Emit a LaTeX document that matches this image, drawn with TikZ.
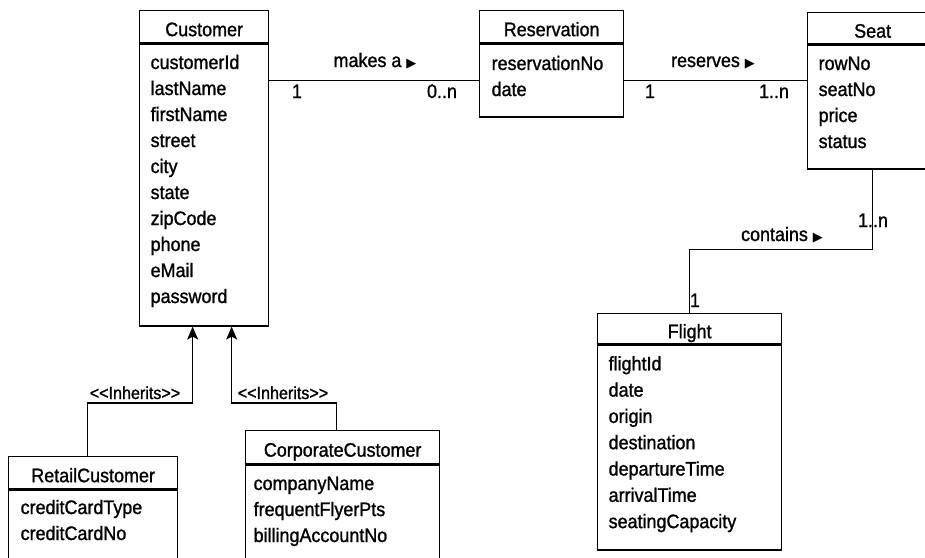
\documentclass[tikz,border=0pt]{standalone}
\usepackage{fontspec}
\setmainfont{Liberation Sans}[FakeStretch=0.92,FakeBold=1.2]
\newfontfamily\symfont{DejaVu Sans}
\usetikzlibrary{positioning,arrows.meta}
\newcommand{\rtri}{{\symfont\fontsize{13}{13}\selectfont ▶}}

\begin{document}
\begin{tikzpicture}[x=1pt,y=-1pt,line width=1.3pt
	,every node/.style={inner sep=0,font=\fontsize{19.5}{26}\selectfont}
	,hdr/.style={draw,anchor=north west,text height=19,text depth=0}
	,body/.style={draw}
	,attr/.style={anchor=base west}
	,lbl/.style={anchor=base}
	,small/.style={anchor=base,font=\fontsize{17.5}{18}\selectfont}
	,inh/.style={-{Stealth[length=13pt,width=11pt,inset=3pt]}}
]
\useasboundingbox (0,0) rectangle (925,557);

\node[hdr,minimum width=129,minimum height=32](cust) at(139,10) {Customer};
\node[body,below=0pt of cust,minimum width=129,minimum height=282](custbody) {};
\foreach \a [count=\i] in {customerId,lastName,firstName,street,city,state,zipCode,phone,eMail,password}{
	\node[attr](cust\i) at(150,43+26*\i) {\a};
}

\node[hdr,minimum width=144,minimum height=32](res) at(479,10) {Reservation};
\node[body,below=0pt of res,minimum width=144,minimum height=73](resbody) {};
\foreach \a [count=\i] in {reservationNo,date}{
	\node[attr](res\i) at(491,44+26*\i) {\a};
}

\node[hdr,minimum width=130,minimum height=31](seat) at(807,12) {Seat};
\node[body,below=0pt of seat,minimum width=130,minimum height=124](seatbody) {};
\foreach \a [count=\i] in {rowNo,seatNo,price,status}{
	\node[attr](seat\i) at(818,44+26*\i) {\a};
}

\node[hdr,minimum width=184,minimum height=30](flight) at(597,313) {Flight};
\node[body,below=0pt of flight,minimum width=184,minimum height=205](flightbody) {};
\foreach \a [count=\i] in {flightId,date,origin,destination,departureTime,arrivalTime,seatingCapacity}{
	\node[attr](flight\i) at(608,344+26.3*\i) {\a};
}

\node[hdr,minimum width=169,minimum height=32](retail) at(8,456) {RetailCustomer};
\node[body,below=0pt of retail,minimum width=169,minimum height=90](retailbody) {};
\foreach \a [count=\i] in {creditCardType,creditCardNo}{
	\node[attr](retail\i) at(20,488+26*\i) {\a};
}

\node[hdr,minimum width=194,minimum height=33](corp) at(245,430) {CorporateCustomer};
\node[body,below=0pt of corp,minimum width=194,minimum height=110](corpbody) {};
\foreach \a [count=\i] in {companyName,frequentFlyerPts,billingAccountNo}{
	\node[attr](corp\i) at(253,464+26*\i) {\a};
}

\draw(custbody.east |- resbody.west) -- (resbody.west);
\draw(resbody.east) -- (resbody.east -| seatbody.west);
\draw(seatbody.south) -- ++(0,80) -| (flight.north);
\draw[inh]([xshift=-5.5]retail.north) -- ++(0,-53) -| ([xshift=-11.5]custbody.south);
\draw[inh]([xshift=-6]corp.north) -- ++(0,-27) -| ([xshift=27.5]custbody.south);

\node[lbl](makes) at(375,67) {makes a \rtri};
\node[lbl](makes1) at(297,98) {1};
\node[lbl](makesn) at(442,98) {0..n};
\node[lbl](reserves) at(713,67) {reserves \rtri};
\node[lbl](reserves1) at(650,98) {1};
\node[lbl](reservesn) at(774,98) {1..n};
\node[lbl](contains) at(782,241) {contains \rtri};
\node[lbl](containsn) at(873,227) {1..n};
\node[lbl](contains1) at(695,307) {1};
\node[small](inh1) at(135,399) {<\kern0pt<Inherits>\kern0pt>};
\node[small](inh2) at(283,399) {<\kern0pt<Inherits>\kern0pt>};

\end{tikzpicture}
\end{document}
